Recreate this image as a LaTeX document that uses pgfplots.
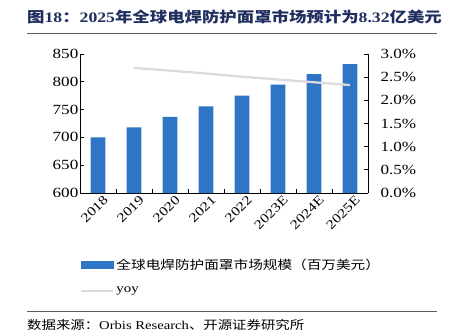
\documentclass[border=0pt]{standalone}
\usepackage{fontspec}
\setmainfont{Liberation Serif}[FakeStretch=1.22]
\newfontfamily\cjk{Noto Sans CJK SC}[FakeStretch=1.2]
\usepackage{pgfplots}
\pgfplotsset{compat=1.18}
\definecolor{barblue}{RGB}{46,117,198}
\definecolor{yoygray}{RGB}{218,218,218}
\definecolor{titleblue}{RGB}{31,45,95}
\definecolor{rulegray}{RGB}{90,90,90}
\begin{document}
\begin{tikzpicture}
\useasboundingbox (0pt,0pt) rectangle (451pt,-335pt);
\node[anchor=west, text=titleblue, font=\bfseries\fontsize{14.5}{16}\selectfont, inner sep=0] at (27pt,-17pt) {{\cjk 图}18{\cjk ：}2025{\cjk 年全球电焊防护面罩市场预计为}8.32{\cjk 亿美元}};
\draw[rulegray, line width=0.9pt] (27pt,-33pt) -- (437pt,-33pt);
\begin{axis}[
  at={(80pt,-193pt)}, anchor=south west,
  width=288pt, height=139pt, scale only axis,
  xmin=-0.5, xmax=7.5, ymin=600, ymax=850,
  ytick={600,650,...,850},
  xtick={0.5,1.5,...,6.5}, xticklabels={},
  extra x ticks={0,1,...,7},
  extra x tick labels={2018,2019,2020,2021,2022,2023E,2024E,2025E},
  extra x tick style={major tick length=0pt, xticklabel style={rotate=45, anchor=east, inner sep=1pt, yshift=-9pt, xshift=3pt, font=\fontsize{13}{14}\selectfont}},
  axis x line*=bottom, axis y line*=left,
  axis line style={black, line width=0.8pt, -},
  tick style={black, line width=0.7pt},
  tick align=inside, major tick length=4pt,
  tick label style={font=\fontsize{14}{15}\selectfont},
  yticklabel style={inner sep=1.5pt},
  /pgf/number format/assume math mode=true,
  clip=false,
]
\addplot[ybar, bar width=14.7pt, fill=barblue, draw=none] coordinates {
(0,700) (1,718) (2,737) (3,756) (4,775) (5,795) (6,814) (7,832)};
\end{axis}
\begin{axis}[
  at={(80pt,-193pt)}, anchor=south west,
  width=288pt, height=139pt, scale only axis,
  xmin=-0.5, xmax=7.5, ymin=0, ymax=3,
  ytick={0,0.5,...,3},
  yticklabel={\pgfmathprintnumber[fixed,fixed zerofill,precision=1,assume math mode=true]{\tick}\%},
  axis x line=none, axis y line*=right,
  axis line style={black, line width=0.8pt, -},
  tick style={black, line width=0.7pt},
  tick align=inside, major tick length=4pt,
  tick label style={font=\fontsize{14}{15}\selectfont},
  yticklabel style={xshift=9pt},
  /pgf/number format/assume math mode=true,
  legend style={at={(0.0,-0.46)}, anchor=north west, draw=none, fill=none,
    font=\fontsize{12.2}{14}\selectfont, row sep=12pt, inner sep=0pt},
  legend cell align=left,
]
\addlegendimage{legend image code/.code={\fill[barblue] (0pt,-3.5pt) rectangle (32pt,3.5pt);}}
\addlegendentry{\cjk 全球电焊防护面罩市场规模（百万美元）}
\addplot[yoygray, line width=2.3pt, mark=none,
  legend image code/.code={\draw[yoygray, line width=2.3pt] (0pt,0pt) -- (32pt,0pt);}]
  coordinates {(1,2.70) (2,2.64) (3,2.58) (4,2.51) (5,2.45) (6,2.39) (7,2.33)};
\addlegendentry{yoy}
\end{axis}
\draw[rulegray, line width=0.8pt] (27pt,-311pt) -- (437pt,-311pt);
\node[anchor=west, font=\fontsize{12}{14}\selectfont, inner sep=0] at (27pt,-325pt) {{\cjk 数据来源：}Orbis Research{\cjk 、开源证券研究所}};
\end{tikzpicture}
\end{document}
